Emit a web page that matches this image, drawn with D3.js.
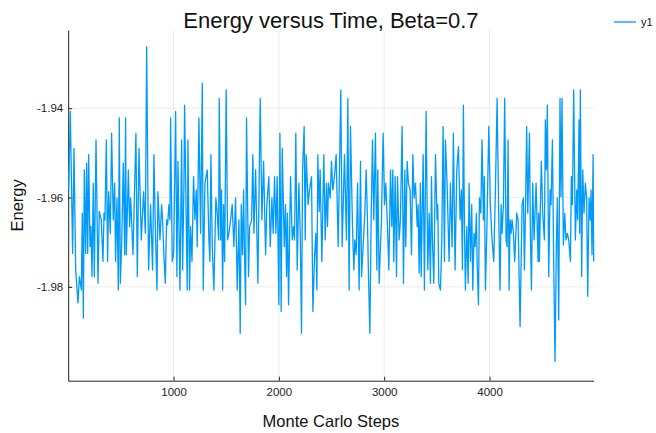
<!DOCTYPE html>
<html lang="en">
    <head>
        <meta charset="utf-8">
        <title>Energy versus Time</title>
        <script src="https://d3js.org/d3.v7.min.js"></script>
        <style type="text/css">
            body {
                margin: 0;
                background: white;
            }

            .axis path,
            .axis line {
                stroke: #222;
            }

            .axis text {
                font-family: "Liberation Sans", Arial, sans-serif;
                font-size: 11.5px;
                fill: #222;
            }

            .grid line {
                stroke: #ececec;
                stroke-width: 1px;
            }

            .line {
                fill: none;
                stroke: #009af9;
                stroke-width: 1.3px;
                stroke-linejoin: round;
            }

            .label {
                font-family: "Liberation Sans", Arial, sans-serif;
                fill: #111;
            }
        </style>
    </head>
    <body>
        <script type="text/javascript">

            // Monte Carlo step of each sample
            const mcSteps = [
                4, 20, 42, 55, 71, 93, 106, 125, 134, 144, 153, 166, 175, 185, 194, 207, 216, 226, 238, 248,
                264, 283, 295, 314, 330, 340, 349, 362, 374, 384, 400, 412, 428, 441, 450, 463, 476, 485, 495, 507,
                523, 536, 545,
                552, 571, 583, 593, 615, 643, 656, 672, 694, 716, 732, 745, 763, 782, 801, 814, 827, 843, 852, 871,
                887, 896, 909, 922, 934, 944, 956, 966, 972, 988, 1001, 1020, 1032, 1042, 1061, 1077, 1086, 1099, 1105,
                1130, 1137, 1152, 1162, 1175, 1190, 1203, 1216, 1225, 1241, 1257, 1273, 1282, 1298, 1320, 1336, 1345, 1355, 1368, 1383,
                1402, 1415, 1428, 1434, 1447, 1456, 1466, 1475, 1485, 1500, 1513, 1526, 1542, 1557, 1573, 1589, 1605, 1621, 1633, 1643,
                1655, 1665,
                1674, 1684, 1693, 1712, 1722, 1741, 1753, 1763, 1779, 1801, 1823, 1839, 1855, 1874, 1886, 1905, 1918, 1934, 1946, 1959,
                1972, 1984, 2000, 2010, 2022, 2032, 2051, 2063, 2073, 2082, 2092, 2111, 2127, 2139, 2149, 2161, 2174, 2190, 2203, 2215,
                2225,
                2240, 2250, 2259, 2278, 2291, 2310, 2323, 2339, 2351, 2361, 2370, 2383, 2392, 2408, 2427, 2440, 2452, 2462, 2471, 2487,
                2500, 2512, 2528, 2544, 2563, 2588, 2601, 2623, 2642, 2655, 2667, 2680, 2699, 2712, 2721, 2734, 2747, 2762, 2775, 2785,
                2803, 2816, 2829, 2841, 2851, 2864, 2876, 2889, 2901, 2917, 2930, 2939, 2952, 2974, 2990, 3003, 3015, 3031, 3044, 3060,
                3072, 3082, 3091, 3104, 3117, 3126, 3142, 3154, 3170, 3183, 3196, 3205, 3218, 3230, 3246, 3259, 3272, 3284, 3297, 3313,
                3322, 3332, 3344,
                3351, 3370, 3382, 3398, 3414, 3427, 3439, 3449, 3458, 3471, 3487, 3502, 3509, 3518, 3534, 3547, 3559, 3572, 3581, 3597,
                3616, 3629, 3645, 3657, 3673, 3689, 3705, 3721, 3733, 3743, 3752, 3762, 3771, 3784, 3797, 3806, 3819, 3831, 3841, 3853,
                3863, 3876, 3882, 3895, 3904,
                3917, 3929, 3942, 3951, 3961, 3974, 3993, 4008, 4024, 4040, 4056, 4072, 4087, 4100, 4110, 4119, 4132, 4144, 4157, 4167,
                4176, 4186, 4195, 4205, 4214, 4227, 4239, 4258, 4271, 4290, 4309, 4322, 4331, 4341, 4353, 4363, 4379, 4388, 4398, 4410,
                4423, 4442, 4461,
                4467, 4473, 4483, 4492, 4505, 4521, 4530, 4540, 4549, 4562, 4575, 4584, 4597, 4609, 4622, 4635, 4644, 4657, 4669, 4679,
                4688, 4701, 4714, 4726, 4739, 4752, 4768, 4777, 4787, 4799, 4815, 4828, 4837, 4850, 4856, 4862, 4875, 4885, 4897, 4910,
                4922, 4932, 4945, 4957, 4964, 4973, 4983, 4989
            ];

            // energy per spin at each of those steps
            const energy = [
                -1.9583, -1.9407, -1.9725, -1.9490, -1.9762, -1.9836, -1.9777, -1.9807, -1.9635, -1.9870,
                -1.9538, -1.9725, -1.9523, -1.9725, -1.9504, -1.9710, -1.9665, -1.9777, -1.9568, -1.9777,
                -1.9471, -1.9792, -1.9631, -1.9650, -1.9743, -1.9635, -1.9650, -1.9471, -1.9743, -1.9587,
                -1.9680, -1.9456, -1.9650, -1.9568, -1.9743, -1.9601, -1.9807, -1.9422, -1.9792, -1.9710,
                -1.9523, -1.9728, -1.9422,
                -1.9728, -1.9538, -1.9665, -1.9601, -1.9728, -1.9456, -1.9777, -1.9490, -1.9695, -1.9587,
                -1.9680, -1.9262, -1.9762, -1.9616, -1.9762, -1.9504, -1.9665, -1.9807, -1.9587, -1.9695,
                -1.9616, -1.9650, -1.9732, -1.9792, -1.9650, -1.9661, -1.9616, -1.9650, -1.9422, -1.9743,
                -1.9725, -1.9407, -1.9777, -1.9519, -1.9807, -1.9471, -1.9762, -1.9568, -1.9393,
                -1.9807, -1.9471, -1.9807, -1.9665, -1.9743, -1.9553, -1.9650, -1.9583, -1.9710, -1.9422,
                -1.9680, -1.9344, -1.9807, -1.9568, -1.9538, -1.9695, -1.9743, -1.9504, -1.9710, -1.9807,
                -1.9601, -1.9635, -1.9695, -1.9378, -1.9695, -1.9583, -1.9807, -1.9616, -1.9743, -1.9359,
                -1.9695, -1.9680, -1.9650, -1.9616, -1.9710, -1.9601, -1.9807, -1.9650, -1.9904, -1.9616,
                -1.9728, -1.9583,
                -1.9728, -1.9840, -1.9422, -1.9777, -1.9665, -1.9650, -1.9504, -1.9680, -1.9538, -1.9792,
                -1.9378, -1.9650, -1.9519, -1.9728, -1.9616, -1.9553, -1.9710, -1.9601, -1.9680, -1.9553,
                -1.9680, -1.9553, -1.9840, -1.9456, -1.9855, -1.9490, -1.9710, -1.9616, -1.9777, -1.9635,
                -1.9840, -1.9553, -1.9695, -1.9665, -1.9695, -1.9456, -1.9762, -1.9568, -1.9680, -1.9904,
                -1.9538,
                -1.9441, -1.9695, -1.9504, -1.9616, -1.9583, -1.9553, -1.9855, -1.9732, -1.9680, -1.9807,
                -1.9504, -1.9631, -1.9538, -1.9743, -1.9504, -1.9695, -1.9568, -1.9665, -1.9568, -1.9601,
                -1.9519, -1.9583, -1.9553, -1.9504, -1.9710, -1.9359, -1.9710, -1.9504, -1.9695, -1.9378,
                -1.9807, -1.9441, -1.9665, -1.9762, -1.9695, -1.9728, -1.9568, -1.9807, -1.9519, -1.9777,
                -1.9695, -1.9635, -1.9538, -1.9650, -1.9777, -1.9904, -1.9650, -1.9471, -1.9650, -1.9456,
                -1.9762, -1.9538, -1.9792, -1.9650, -1.9456, -1.9616, -1.9568, -1.9665, -1.9762, -1.9538,
                -1.9665, -1.9538, -1.9743, -1.9553, -1.9777, -1.9553, -1.9695, -1.9650, -1.9441, -1.9792,
                -1.9538, -1.9710, -1.9519, -1.9568, -1.9583, -1.9728, -1.9504, -1.9601, -1.9568, -1.9665,
                -1.9616, -1.9769, -1.9568,
                -1.9777, -1.9504, -1.9807, -1.9407, -1.9762, -1.9635, -1.9792, -1.9553, -1.9695, -1.9792,
                -1.9504, -1.9650, -1.9616, -1.9792, -1.9807, -1.9695, -1.9441, -1.9743, -1.9471, -1.9568,
                -1.9743, -1.9568, -1.9710, -1.9456, -1.9762, -1.9538, -1.9486, -1.9650, -1.9583, -1.9762,
                -1.9393, -1.9665, -1.9807, -1.9665, -1.9792, -1.9568, -1.9743, -1.9616, -1.9807, -1.9680,
                -1.9710, -1.9635, -1.9743, -1.9840, -1.9601,
                -1.9635, -1.9471, -1.9650, -1.9553, -1.9807, -1.9680, -1.9441, -1.9616, -1.9695, -1.9743,
                -1.9583, -1.9378, -1.9635, -1.9807, -1.9616, -1.9680, -1.9616, -1.9378, -1.9695, -1.9710,
                -1.9471, -1.9807, -1.9650, -1.9680, -1.9650, -1.9680, -1.9743, -1.9635, -1.9650, -1.9889,
                -1.9616, -1.9601, -1.9762, -1.9635, -1.9441, -1.9635, -1.9456, -1.9680, -1.9807, -1.9568,
                -1.9695, -1.9568, -1.9743,
                -1.9635, -1.9743, -1.9616, -1.9519, -1.9635, -1.9695, -1.9426, -1.9538, -1.9393, -1.9777,
                -1.9583, -1.9616, -1.9471, -1.9743, -1.9967, -1.9695, -1.9601, -1.9874, -1.9378, -1.9598,
                -1.9378, -1.9706, -1.9635, -1.9695, -1.9680, -1.9695, -1.9743, -1.9553, -1.9616, -1.9359,
                -1.9695, -1.9583, -1.9650, -1.9426, -1.9680, -1.9359, -1.9777, -1.9538, -1.9635, -1.9568,
                -1.9601, -1.9821, -1.9601, -1.9650, -1.9583, -1.9728, -1.9504, -1.9743
            ];

            const xTicks = [1000, 2000, 3000, 4000];
            const yTicks = [-1.98, -1.96, -1.94];
            const xDomain = [0, 4989];
            const yDomain = [-2.001, -1.9225];
            const seriesName = "y1";

            const w = 656;
            const h = 433;
            const plotLeft = 68.2;
            const plotRight = 593.7;
            const plotTop = 30;
            const plotBottom = 380.7;

            const data = mcSteps.map((s, i) => ({step: s, energy: energy[i]}));

            //scales
            const xScale = d3.scaleLinear()
                             .domain(xDomain)
                             .range([plotLeft, plotRight]);

            const yScale = d3.scaleLinear()
                             .domain(yDomain)
                             .range([plotBottom, plotTop]);

            //SVG
            const svg = d3.select("body")
                    .append("svg")
                    .attr("width", w)
                    .attr("height", h);

            //grid
            svg.append("g")
               .attr("class", "grid")
               .selectAll("line")
               .data(xTicks)
               .join("line")
               .attr("x1", d => xScale(d))
               .attr("x2", d => xScale(d))
               .attr("y1", plotTop)
               .attr("y2", plotBottom);

            svg.append("g")
               .attr("class", "grid")
               .selectAll("line")
               .data(yTicks)
               .join("line")
               .attr("x1", plotLeft)
               .attr("x2", plotRight)
               .attr("y1", d => yScale(d))
               .attr("y2", d => yScale(d));

            //bottom axis
            const bottomAxis = d3.axisBottom()
                                 .scale(xScale)
                                 .tickValues(xTicks)
                                 .tickFormat(d3.format("d"))
                                 .tickSizeInner(-4)
                                 .tickSizeOuter(0)
                                 .tickPadding(7);

            svg.append("g")
               .attr("class", "axis")
               .attr("transform", "translate(0," + plotBottom + ")")
               .call(bottomAxis);

            //left axis
            const leftAxis = d3.axisLeft()
                               .scale(yScale)
                               .tickValues(yTicks)
                               .tickFormat(d => d.toFixed(2))
                               .tickSizeInner(-4)
                               .tickSizeOuter(0)
                               .tickPadding(5);

            svg.append("g")
               .attr("class", "axis")
               .attr("transform", "translate(" + plotLeft + ",0)")
               .call(leftAxis);

            //line
            const coords = d3.line()
                             .x(d => xScale(d.step))
                             .y(d => yScale(d.energy));

            svg.append("path")
               .datum(data)
               .attr("class", "line")
               .attr("d", coords);

            //title and axis labels
            svg.append("text")
               .attr("class", "label")
               .attr("x", (plotLeft + plotRight) / 2)
               .attr("y", 28)
               .attr("text-anchor", "middle")
               .style("font-size", "22px")
               .text("Energy versus Time, Beta=0.7");

            svg.append("text")
               .attr("class", "label")
               .attr("x", (plotLeft + plotRight) / 2)
               .attr("y", 427)
               .attr("text-anchor", "middle")
               .style("font-size", "16.5px")
               .text("Monte Carlo Steps");

            svg.append("text")
               .attr("class", "label")
               .attr("transform", "translate(23," + (plotTop + plotBottom) / 2 + ") rotate(-90)")
               .attr("text-anchor", "middle")
               .style("font-size", "16.5px")
               .text("Energy");

            //legend
            svg.append("line")
               .attr("x1", 614)
               .attr("x2", 636)
               .attr("y1", 22)
               .attr("y2", 22)
               .attr("stroke", "#009af9")
               .attr("stroke-width", 1.3);

            svg.append("text")
               .attr("class", "label")
               .attr("x", 641)
               .attr("y", 26)
               .style("font-size", "11px")
               .text(seriesName);

        </script>
    </body>
</html>
